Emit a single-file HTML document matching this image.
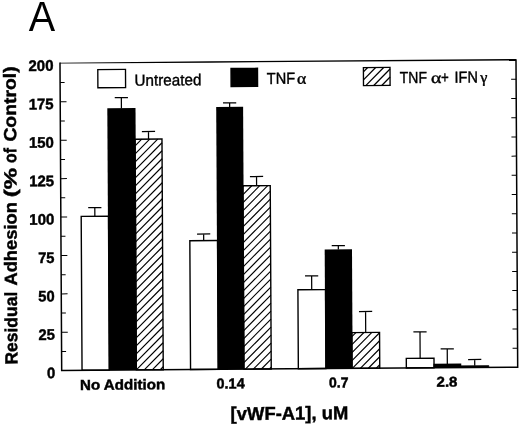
<!DOCTYPE html>
<html><head><meta charset="utf-8"><title>Figure A</title>
<style>html,body{margin:0;padding:0;background:#fff}svg{display:block}text{font-family:"Liberation Sans",sans-serif;fill:#000}.b{font-weight:bold;stroke:#000;stroke-width:0.45px}.r{stroke:#000;stroke-width:0.4px}</style>
</head><body>
<svg width="520" height="426" viewBox="0 0 520 426">
<rect width="520" height="426" fill="#fff"/>
<text x="28.7" y="31.4" font-size="42.5" textLength="26.4" lengthAdjust="spacingAndGlyphs">A</text>
<g transform="matrix(1 -0.0073 0.0055 1 -1.1830 2.1085)">
<path d="M94.85 214.88V206.18M88.25 206.18H101.45" stroke="#000" stroke-width="1.25" fill="none"/>
<rect x="81.20" y="214.88" width="27.30" height="153.92" fill="#fff" stroke="#000" stroke-width="1.4"/>
<path d="M148.95 138.08V130.48M142.35 130.48H155.55" stroke="#000" stroke-width="1.25" fill="none"/>
<path d="M135.50 144.70L142.12 138.08M135.50 152.70L150.12 138.08M135.50 160.70L158.12 138.08M135.50 168.70L162.40 141.80M135.50 176.70L162.40 149.80M135.50 184.70L162.40 157.80M135.50 192.70L162.40 165.80M135.50 200.70L162.40 173.80M135.50 208.70L162.40 181.80M135.50 216.70L162.40 189.80M135.50 224.70L162.40 197.80M135.50 232.70L162.40 205.80M135.50 240.70L162.40 213.80M135.50 248.70L162.40 221.80M135.50 256.70L162.40 229.80M135.50 264.70L162.40 237.80M135.50 272.70L162.40 245.80M135.50 280.70L162.40 253.80M135.50 288.70L162.40 261.80M135.50 296.70L162.40 269.80M135.50 304.70L162.40 277.80M135.50 312.70L162.40 285.80M135.50 320.70L162.40 293.80M135.50 328.70L162.40 301.80M135.50 336.70L162.40 309.80M135.50 344.70L162.40 317.80M135.50 352.70L162.40 325.80M135.50 360.70L162.40 333.80M135.50 368.70L162.40 341.80M143.40 368.80L162.40 349.80M151.40 368.80L162.40 357.80M159.40 368.80L162.40 365.80" stroke="#000" stroke-width="1.15" fill="none"/>
<rect x="135.50" y="138.08" width="26.90" height="230.72" fill="none" stroke="#000" stroke-width="1.4"/>
<path d="M122.00 107.28V96.38M115.40 96.38H128.60" stroke="#000" stroke-width="1.25" fill="none"/>
<rect x="107.90" y="106.98" width="28.20" height="261.82" fill="#000"/>
<path d="M203.55 239.97V233.37M196.95 233.37H210.15" stroke="#000" stroke-width="1.25" fill="none"/>
<rect x="189.70" y="239.97" width="27.70" height="128.83" fill="#fff" stroke="#000" stroke-width="1.4"/>
<path d="M256.75 185.47V176.27M250.15 176.27H263.35" stroke="#000" stroke-width="1.25" fill="none"/>
<path d="M243.10 186.25L243.88 185.47M243.10 194.25L251.88 185.47M243.10 202.25L259.88 185.47M243.10 210.25L267.88 185.47M243.10 218.25L270.40 190.95M243.10 226.25L270.40 198.95M243.10 234.25L270.40 206.95M243.10 242.25L270.40 214.95M243.10 250.25L270.40 222.95M243.10 258.25L270.40 230.95M243.10 266.25L270.40 238.95M243.10 274.25L270.40 246.95M243.10 282.25L270.40 254.95M243.10 290.25L270.40 262.95M243.10 298.25L270.40 270.95M243.10 306.25L270.40 278.95M243.10 314.25L270.40 286.95M243.10 322.25L270.40 294.95M243.10 330.25L270.40 302.95M243.10 338.25L270.40 310.95M243.10 346.25L270.40 318.95M243.10 354.25L270.40 326.95M243.10 362.25L270.40 334.95M244.55 368.80L270.40 342.95M252.55 368.80L270.40 350.95M260.55 368.80L270.40 358.95M268.55 368.80L270.40 366.95" stroke="#000" stroke-width="1.15" fill="none"/>
<rect x="243.10" y="185.47" width="27.30" height="183.33" fill="none" stroke="#000" stroke-width="1.4"/>
<path d="M230.25 106.77V102.47M223.65 102.47H236.85" stroke="#000" stroke-width="1.25" fill="none"/>
<rect x="216.80" y="106.47" width="26.90" height="262.33" fill="#000"/>
<path d="M311.30 289.86V276.06M304.70 276.06H317.90" stroke="#000" stroke-width="1.25" fill="none"/>
<rect x="297.50" y="289.86" width="27.60" height="78.94" fill="#fff" stroke="#000" stroke-width="1.4"/>
<path d="M365.05 333.06V312.06M358.45 312.06H371.65" stroke="#000" stroke-width="1.25" fill="none"/>
<path d="M351.20 337.10L355.24 333.06M351.20 345.10L363.24 333.06M351.20 353.10L371.24 333.06M351.20 361.10L378.90 333.40M351.50 368.80L378.90 341.40M359.50 368.80L378.90 349.40M367.50 368.80L378.90 357.40M375.50 368.80L378.90 365.40" stroke="#000" stroke-width="1.15" fill="none"/>
<rect x="351.20" y="333.06" width="27.70" height="35.74" fill="none" stroke="#000" stroke-width="1.4"/>
<path d="M338.15 249.96V245.96M331.55 245.96H344.75" stroke="#000" stroke-width="1.25" fill="none"/>
<rect x="324.50" y="249.66" width="27.30" height="119.14" fill="#000"/>
<path d="M419.35 359.26V332.86M412.75 332.86H425.95" stroke="#000" stroke-width="1.25" fill="none"/>
<rect x="405.50" y="359.26" width="27.70" height="9.54" fill="#fff" stroke="#000" stroke-width="1.4"/>
<path d="M473.90 367.06V360.86M467.30 360.86H480.50" stroke="#000" stroke-width="1.25" fill="none"/>
<rect x="459.80" y="367.06" width="28.20" height="1.74" fill="#000" stroke="#000" stroke-width="0.6"/>
<path d="M446.50 365.16V350.06M439.90 350.06H453.10" stroke="#000" stroke-width="1.25" fill="none"/>
<rect x="432.60" y="364.86" width="27.80" height="3.94" fill="#000"/>
<path d="M60.84 61.05L210.84 60.699999999999996L516.84 60.699999999999996V62.1L210.84 62.1L60.84 61.75Z" fill="#000"/>
<path d="M60.84 60.9V368.8H516.84V60.9" stroke="#000" stroke-width="1.5" fill="none" stroke-linejoin="miter"/>
<path d="M60.84 349.89h4.5M516.84 349.89h-5M60.84 330.68h6.3M516.84 330.68h-5M60.84 311.46h4.5M516.84 311.46h-5M60.84 292.25h6.3M516.84 292.25h-5M60.84 273.04h4.5M516.84 273.04h-5M60.84 253.83h6.3M516.84 253.83h-5M60.84 234.61h4.5M516.84 234.61h-5M60.84 215.40h6.3M516.84 215.40h-5M60.84 196.19h4.5M516.84 196.19h-5M60.84 176.97h6.3M516.84 176.97h-5M60.84 157.76h4.5M516.84 157.76h-5M60.84 138.55h6.3M516.84 138.55h-5M60.84 119.34h4.5M516.84 119.34h-5M60.84 100.12h6.3M516.84 100.12h-5M60.84 80.91h4.5M516.84 80.91h-5" stroke="#000" stroke-width="1" fill="none"/>
<text class="b" x="46.00" y="376.50" font-size="15.3" textLength="8.3" lengthAdjust="spacingAndGlyphs">0</text>
<text class="b" x="37.90" y="338.07" font-size="15.3" textLength="16.4" lengthAdjust="spacingAndGlyphs">25</text>
<text class="b" x="37.90" y="299.65" font-size="15.3" textLength="16.4" lengthAdjust="spacingAndGlyphs">50</text>
<text class="b" x="37.90" y="261.23" font-size="15.3" textLength="16.4" lengthAdjust="spacingAndGlyphs">75</text>
<text class="b" x="29.30" y="222.80" font-size="15.3" textLength="25.0" lengthAdjust="spacingAndGlyphs">100</text>
<text class="b" x="29.30" y="184.37" font-size="15.3" textLength="25.0" lengthAdjust="spacingAndGlyphs">125</text>
<text class="b" x="29.30" y="145.95" font-size="15.3" textLength="25.0" lengthAdjust="spacingAndGlyphs">150</text>
<text class="b" x="29.30" y="107.52" font-size="15.3" textLength="25.0" lengthAdjust="spacingAndGlyphs">175</text>
<text class="b" x="29.30" y="69.10" font-size="15.3" textLength="25.0" lengthAdjust="spacingAndGlyphs">200</text>
<text class="b" x="79.04" y="388.39" font-size="14.4" textLength="85.20" lengthAdjust="spacingAndGlyphs">No Addition</text>
<text class="b" x="215.65" y="387.98" font-size="14.4" textLength="28.10" lengthAdjust="spacingAndGlyphs">0.14</text>
<text class="b" x="328.05" y="387.86" font-size="14.4" textLength="19.50" lengthAdjust="spacingAndGlyphs">0.7</text>
<text class="b" x="435.56" y="387.85" font-size="14.4" textLength="21.00" lengthAdjust="spacingAndGlyphs">2.8</text>
<text class="b" x="229.48" y="419.60" font-size="18.6" textLength="117.70" lengthAdjust="spacingAndGlyphs">[vWF-A1], uM</text>
<text class="b" transform="translate(16.57 362.62) rotate(-90)" font-size="17.6" textLength="72.90" lengthAdjust="spacingAndGlyphs">Residual</text>
<text class="b" transform="translate(16.57 283.62) rotate(-90)" font-size="17.6" textLength="83.60" lengthAdjust="spacingAndGlyphs">Adhesion</text>
<text class="b" transform="translate(16.57 195.32) rotate(-90)" font-size="17.6" textLength="29.40" lengthAdjust="spacingAndGlyphs">(%</text>
<text class="b" transform="translate(16.57 160.92) rotate(-90)" font-size="17.6" textLength="14.90" lengthAdjust="spacingAndGlyphs">of</text>
<text class="b" transform="translate(16.57 139.62) rotate(-90)" font-size="17.6" textLength="75.20" lengthAdjust="spacingAndGlyphs">Control)</text>
<rect x="98.60" y="68.21" width="27.70" height="18.20" fill="#fff" stroke="#000" stroke-width="1.35"/>
<rect x="231.81" y="68.08" width="26.50" height="17.99" fill="#000" stroke="#000" stroke-width="1.35"/>
<path d="M364.21 72.39L368.46 68.14M364.21 80.39L376.46 68.14M366.46 86.14L384.46 68.14M374.46 86.14L390.81 69.79M382.46 86.14L390.81 77.79M390.46 86.14L390.81 85.79" stroke="#000" stroke-width="1.25" fill="none"/>
<rect x="364.21" y="68.14" width="26.60" height="17.99" fill="none" stroke="#000" stroke-width="1.35"/>
<text class="r" x="135.31" y="84.62" font-size="16" textLength="66.80" lengthAdjust="spacingAndGlyphs">Untreated</text>
<text class="r" x="267.52" y="83.74" font-size="16" textLength="28.40" lengthAdjust="spacingAndGlyphs">TNF</text>
<text class="r" x="297.72" y="83.89" font-size="16" style="font-family:'Liberation Serif',serif" textLength="9.30" lengthAdjust="spacingAndGlyphs">α</text>
<text class="r" x="400.53" y="83.91" font-size="16" textLength="27.20" lengthAdjust="spacingAndGlyphs">TNF</text>
<text class="r" x="431.63" y="84.07" font-size="16" style="font-family:'Liberation Serif',serif" textLength="10.40" lengthAdjust="spacingAndGlyphs">α</text>
<text class="r" x="441.73" y="83.94" font-size="16" textLength="7.80" lengthAdjust="spacingAndGlyphs">+</text>
<text class="r" x="455.23" y="83.89" font-size="16" textLength="23.40" lengthAdjust="spacingAndGlyphs">IFN</text>
<text class="r" x="481.03" y="84.02" font-size="16" style="font-family:'Liberation Serif',serif" textLength="7.20" lengthAdjust="spacingAndGlyphs">γ</text>
</g>
</svg></body></html>
